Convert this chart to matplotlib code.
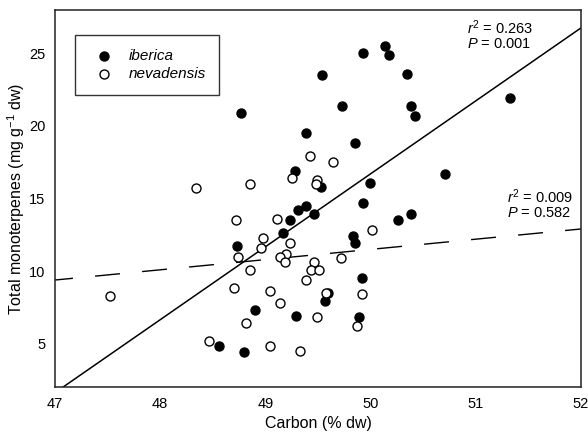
import numpy as np
import matplotlib.pyplot as plt

plt.rcParams["font.family"] = ["Liberation Sans", "DejaVu Sans"]
plt.rcParams["mathtext.fontset"] = "custom"
plt.rcParams["mathtext.rm"] = "Liberation Sans"
plt.rcParams["mathtext.it"] = "Liberation Sans:italic"

# iberica (filled)
iberica_c = [49.54, 48.77, 49.39, 49.85, 49.28, 49.53, 49.99, 50.71, 49.31, 49.39,
             49.46, 49.23, 49.93, 50.26, 50.38, 49.17, 48.73, 49.83, 49.85, 49.92,
             49.60, 49.57, 48.90, 49.29, 49.89, 48.56, 48.80, 49.93, 50.14, 50.18,
             50.35, 49.73, 50.38, 50.42, 51.33]
iberica_m = [23.5, 20.9, 19.5, 18.8, 16.9, 15.8, 16.1, 16.7, 14.2, 14.5,
             13.9, 13.5, 14.7, 13.5, 13.9, 12.6, 11.7, 12.4, 11.9, 9.5,
             8.5, 7.9, 7.3, 6.9, 6.8, 4.8, 4.4, 25.0, 25.5, 24.9,
             23.6, 21.4, 21.4, 20.7, 21.9]

# nevadensis (open)
nevad_c = [49.42, 49.64, 49.25, 49.49, 49.48, 48.85, 48.34, 48.72, 49.11, 48.98,
           48.96, 48.74, 49.23, 49.20, 49.14, 49.19, 49.46, 49.43, 49.51, 50.01,
           49.72, 48.85, 49.39, 48.70, 49.04, 49.14, 49.58, 49.92, 48.82, 49.49,
           49.87, 48.46, 49.04, 49.33, 47.52]
nevad_m = [17.9, 17.5, 16.4, 16.3, 16.0, 16.0, 15.7, 13.5, 13.6, 12.3,
           11.6, 11.0, 11.9, 11.2, 11.0, 10.6, 10.6, 10.1, 10.1, 12.8,
           10.9, 10.1, 9.4, 8.8, 8.6, 7.8, 8.5, 8.4, 6.4, 6.8,
           6.2, 5.2, 4.8, 4.5, 8.3]

# regression fits: (slope, intercept)
fit_iberica = (5.03, -234.8)
fit_nevad = (0.704, -23.71)
stats_iberica = ("0.263", "0.001")
stats_nevad = ("0.009", "0.582")

fig = plt.figure(figsize=(5.88, 4.41), dpi=100)
ax = fig.add_axes([0.0935, 0.1224, 0.8945, 0.855])

xs = np.array([47, 52])
ax.plot(xs, fit_iberica[0] * xs + fit_iberica[1], color="black", lw=1.1, zorder=2)
ax.plot(xs, fit_nevad[0] * xs + fit_nevad[1], color="black", lw=1.0,
        linestyle=(5, (18, 16)), zorder=2)

ax.scatter(iberica_c, iberica_m, s=42, color="black", zorder=3, label="iberica")
ax.scatter(nevad_c, nevad_m, s=42, facecolor="white", edgecolor="black",
           linewidth=1.0, zorder=3, label="nevadensis")

ax.set_xlim(47, 52)
ax.set_ylim(2, 28)
ax.set_xticks([47, 48, 49, 50, 51, 52])
ax.set_yticks([5, 10, 15, 20, 25])
ax.tick_params(length=0, labelsize=10.5, pad=7)
for sp in ax.spines.values():
    sp.set_linewidth(1.1)
    sp.set_color("#222222")

ax.set_xlabel("Carbon (% dw)", fontsize=11.5, labelpad=4)
ax.set_ylabel("Total monoterpenes (mg g$^{-1}$ dw)", fontsize=11.5, labelpad=1)

ann = dict(transform=fig.transFigure, fontsize=10.5, va="center", ha="left")
fig.text(0.794, 0.937, r"$\it{r}^2$ = " + stats_iberica[0], **ann)
fig.text(0.794, 0.900, r"$\it{P}$ = " + stats_iberica[1], **ann)
fig.text(0.862, 0.553, r"$\it{r}^2$ = " + stats_nevad[0], **ann)
fig.text(0.862, 0.517, r"$\it{P}$ = " + stats_nevad[1], **ann)

leg = ax.legend(loc="upper left", bbox_to_anchor=(0.038, 0.934), frameon=True,
                fancybox=False, prop={"style": "italic", "size": 11},
                handletextpad=0.6, borderpad=0.9, labelspacing=0.3,
                borderaxespad=0)
leg.get_frame().set_edgecolor("black")
leg.get_frame().set_linewidth(1.0)

fig.savefig("out.png", dpi=100)
